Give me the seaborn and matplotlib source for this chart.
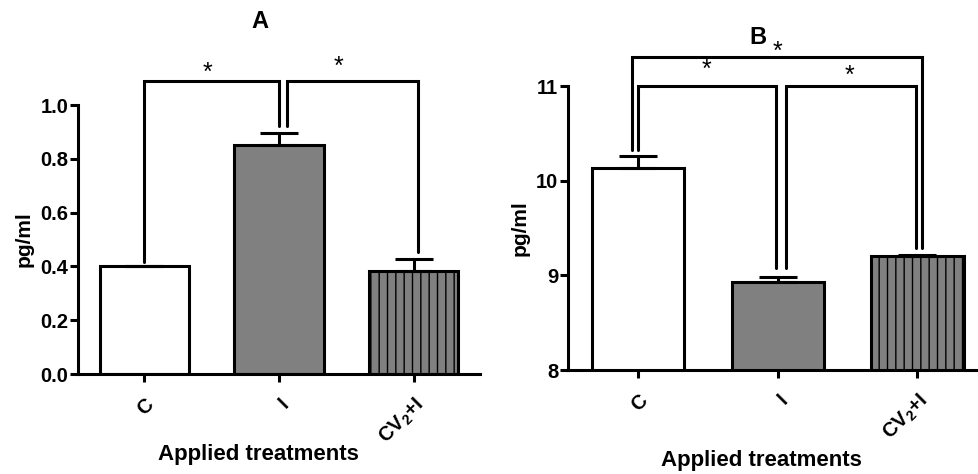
import numpy as np
import pandas as pd
import matplotlib
matplotlib.use("Agg")
import matplotlib.pyplot as plt
import seaborn as sns

sns.set_style("white")
plt.rcParams['font.family'] = ['Liberation Sans', 'DejaVu Sans']
plt.rcParams['font.weight'] = 'bold'
plt.rcParams['text.color'] = 'black'
plt.rcParams['axes.labelcolor'] = 'black'
plt.rcParams['xtick.color'] = 'black'
plt.rcParams['ytick.color'] = 'black'
plt.rcParams['mathtext.fontset'] = 'custom'
plt.rcParams['mathtext.rm'] = 'Liberation Sans:bold'
plt.rcParams['mathtext.bf'] = 'Liberation Sans:bold'
plt.rcParams['mathtext.default'] = 'bf'
plt.rcParams['hatch.linewidth'] = 1.0

# ---- data ----
categories = ["C", "I", r"CV$_2$+I"]
a_values = [0.40, 0.85, 0.383]
a_errors = [0.0, 0.045, 0.045]
b_values = [10.13, 8.93, 9.20]
b_errors = [0.13, 0.05, 0.01]
a_yticks = [0.0, 0.2, 0.4, 0.6, 0.8, 1.0]
a_yticklabels = ["0.0", "0.2", "0.4", "0.6", "0.8", "1.0"]
b_yticks = [8, 9, 10, 11]
b_yticklabels = ["8", "9", "10", "11"]
fills = ["white", "#808080", "#808080"]
hatches = [None, None, "||"]

LW = 2.2

fig = plt.figure(figsize=(9.79, 4.74), dpi=100)
W, H = 979, 474
def rect(l, r, b, t):
    return [l / W, (H - b) / H, (r - l) / W, (b - t) / H]

axA = fig.add_axes(rect(78, 480, 374, 105))
axB = fig.add_axes(rect(568, 979, 370, 86))


def draw_panel(ax, values, errors, ylim, yticks, yticklabels, xlim, xlab_pos):
    df = pd.DataFrame({"cat": categories, "val": values})
    sns.barplot(data=df, x="cat", y="val", hue="cat", palette=fills, legend=False,
                width=0.66, edgecolor="black", linewidth=LW, ax=ax, errorbar=None,
                saturation=1)
    for p, h in zip(ax.patches, hatches):
        if h:
            p.set_hatch(h)
    x = np.arange(len(values))
    ax.errorbar(x, values, yerr=[np.zeros(len(values)), errors], fmt="none",
                ecolor="black", elinewidth=LW, capsize=14, capthick=LW, zorder=1)
    ax.set_ylim(*ylim)
    ax.set_xlim(*xlim)
    ax.set_yticks(yticks)
    ax.set_yticklabels(yticklabels, fontsize=14.5, fontweight="bold")
    ax.set_xticks(x)
    ax.set_xticklabels(categories, rotation=45, ha="right", rotation_mode="anchor",
                       fontsize=14.5, fontweight="bold")
    for s in ["top", "right"]:
        ax.spines[s].set_visible(False)
    for s in ["left", "bottom"]:
        ax.spines[s].set_linewidth(LW)
        ax.spines[s].set_color("black")
    ax.spines["left"].set_bounds(ylim[0], yticks[-1])
    ax.tick_params(axis="y", direction="out", length=6, width=LW, color="black",
                   left=True, pad=1)
    ax.tick_params(axis="x", direction="out", length=6, width=LW, color="black",
                   bottom=True, pad=9)
    ax.set_ylabel("pg/ml", fontsize=15, fontweight="bold", labelpad=5)
    ax.set_xlabel("Applied treatments", fontsize=16, fontweight="bold")
    ax.xaxis.set_label_coords(*xlab_pos)
    ax.set_facecolor("none")


def bracket(ax, x1, x2, y1a, y1b, ytop):
    ax.plot([x1, x1, x2, x2], [y1a, ytop, ytop, y1b], color="black", lw=LW,
            solid_joinstyle="miter", clip_on=False, zorder=5)


draw_panel(axA, a_values, a_errors, (0, 1.0), a_yticks, a_yticklabels, (-0.49, 2.49),
           (0.45, -0.26))
draw_panel(axB, b_values, b_errors, (8, 11), b_yticks, b_yticklabels, (-0.5, 2.44),
           (0.47, -0.282))

# Panel A annotations
bracket(axA, 0.0, 1.0, 0.416, 0.922, 1.09)
bracket(axA, 1.06, 2.03, 0.922, 0.454, 1.09)
axA.text(0.47, 1.12, "*", ha="center", va="center", fontsize=18, fontweight="normal")
axA.text(1.44, 1.14, "*", ha="center", va="center", fontsize=18, fontweight="normal")
fig.text(260 / W, 1 - 22 / H, "A", ha="center", va="center", fontsize=17, fontweight="bold")

# Panel B annotations
bracket(axB, -0.04, 2.03, 10.32, 9.29, 11.305)
bracket(axB, 0.0, 0.99, 10.32, 9.08, 11.0)
bracket(axB, 1.06, 1.99, 9.08, 9.29, 11.0)
axB.text(1.0, 11.36, "*", ha="center", va="center", fontsize=18, fontweight="normal")
axB.text(0.49, 11.17, "*", ha="center", va="center", fontsize=18, fontweight="normal")
axB.text(1.51, 11.11, "*", ha="center", va="center", fontsize=18, fontweight="normal")
fig.text(758 / W, 1 - 38 / H, "B", ha="center", va="center", fontsize=17, fontweight="bold")

fig.savefig("out.png", dpi=100)
